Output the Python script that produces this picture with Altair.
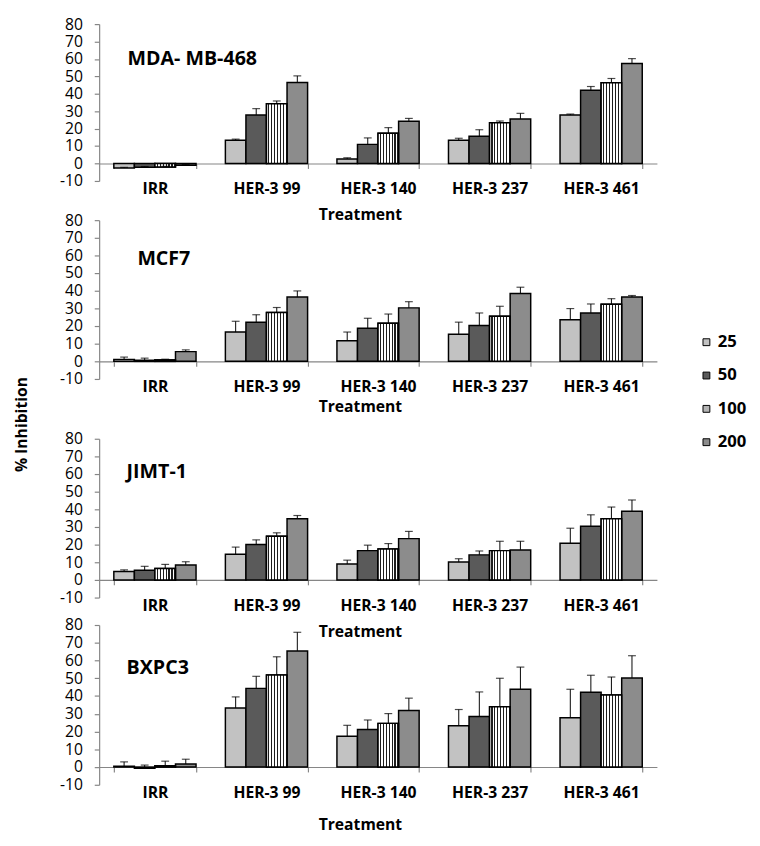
import altair as alt
import pandas as pd

# ---------------- data ----------------
treatments = ["IRR", "HER-3 99", "HER-3 140", "HER-3 237", "HER-3 461"]
doses = ["25", "50", "100", "200"]
cell_lines = ["MDA- MB-468", "MCF7", "JIMT-1", "BXPC3"]

# rows = dose (25, 50, 100, 200); columns = treatments
mda_mean = [[-2.6, 13.4, 2.6, 13.4, 27.8],
            [-2.1, 27.9, 11.0, 15.7, 42.1],
            [-2.0, 34.3, 17.4, 23.4, 46.3],
            [-1.0, 46.5, 24.3, 25.6, 57.4]]
mda_err = [[0.4, 0.6, 0.7, 1.1, 0.6],
           [0.4, 3.6, 3.7, 3.7, 2.1],
           [0.4, 1.6, 3.2, 1.0, 2.5],
           [0.4, 3.8, 1.6, 3.2, 2.8]]

mcf7_mean = [[1.1, 16.6, 11.6, 15.3, 23.5],
             [0.6, 22.2, 18.7, 20.3, 27.4],
             [0.8, 27.7, 21.6, 25.5, 32.3],
             [5.5, 36.4, 30.3, 38.4, 36.4]]
mcf7_err = [[1.3, 6.1, 5.0, 6.9, 6.4],
            [1.2, 4.2, 5.7, 7.1, 5.1],
            [0.4, 2.8, 5.2, 5.7, 3.2],
            [1.0, 3.5, 3.5, 3.6, 0.9]]

jimt_mean = [[4.8, 14.6, 9.0, 10.1, 20.8],
             [5.5, 20.1, 16.6, 14.2, 30.4],
             [6.5, 24.7, 17.5, 16.6, 34.7],
             [8.5, 34.7, 23.4, 17.0, 38.9]]
jimt_err = [[0.9, 4.0, 2.2, 1.9, 8.5],
            [2.2, 2.6, 3.1, 2.2, 6.5],
            [2.3, 2.0, 3.1, 5.3, 6.6],
            [1.8, 1.8, 4.1, 4.9, 6.4]]

bxpc_mean = [[0.5, 33.3, 17.3, 23.3, 27.8],
             [-0.7, 44.3, 21.1, 28.5, 42.1],
             [0.7, 51.8, 24.6, 34.0, 40.6],
             [1.7, 65.4, 31.8, 43.8, 50.2]]
bxpc_err = [[2.4, 6.2, 6.2, 9.1, 16.0],
            [1.8, 6.8, 5.4, 13.8, 9.6],
            [2.6, 10.3, 5.5, 16.0, 10.1],
            [2.7, 10.5, 7.0, 12.5, 12.5]]

y_ticks = [-10, 0, 10, 20, 30, 40, 50, 60, 70, 80]

# ---------------- style ----------------
FONT = "Open Sans"
AXIS_GRAY = "#868686"
FILLS = ["#c2c2c2", "#5a5a5a", "#b4b4b4", "#8c8c8c"]
PLOT_W = 569


def stripes(n=7, line="#1e1e1e"):
    stops = []
    for i in range(n):
        a, b, c = i / n, (i + 0.6) / n, (i + 1) / n
        stops += [alt.GradientStop(color="white", offset=a),
                  alt.GradientStop(color="white", offset=b),
                  alt.GradientStop(color=line, offset=b),
                  alt.GradientStop(color=line, offset=c)]
    return alt.LinearGradient(gradient="linear", stops=stops, x1=0, x2=1, y1=0, y2=0)


def panel(name, means, errs, height, lab_x, lab_y, title_gap):
    rows = []
    for d, mrow, erow in zip(doses, means, errs):
        for t, m, e in zip(treatments, mrow, erow):
            rows.append({"treatment": t, "dose": d, "value": m, "top": m + e})
    df = pd.DataFrame(rows)
    zero_off = height * 10 / 90

    x_enc = alt.X("treatment:N", sort=treatments,
                  scale=alt.Scale(domain=treatments, paddingInner=0.263, paddingOuter=0.1315),
                  axis=alt.Axis(title="Treatment", titleFont=FONT, titleFontSize=16,
                                titleFontWeight="bold", titleColor="black",
                                titleX=266, titleY=zero_off + title_gap, titleBaseline="middle",
                                labelFont=FONT, labelFontSize=16, labelFontWeight="bold",
                                labelColor="black", labelAngle=0, labelPadding=13,
                                domain=True, ticks=True, domainWidth=1.2, tickWidth=1.2,
                                tickBand="extent", tickSize=5, tickColor=AXIS_GRAY,
                                domainColor=AXIS_GRAY, offset=-zero_off))
    xo_enc = alt.XOffset("dose:N", sort=doses,
                         scale=alt.Scale(domain=doses, paddingInner=0, paddingOuter=0))
    y_scale = alt.Scale(domain=[-10, 80], nice=False, zero=True)
    y_axis = alt.Axis(title=None, values=y_ticks, labelExpr="datum.value",
                      labelOverlap=False, labelFont=FONT, labelFontSize=16,
                      labelColor="black", labelPadding=12, tickSize=5, tickWidth=1.2,
                      domainWidth=1.2, tickColor=AXIS_GRAY, domainColor=AXIS_GRAY,
                      grid=False)

    base = alt.Chart(df).encode(x=x_enc, xOffset=xo_enc)

    bars = base.mark_bar(stroke="black", strokeWidth=1.5).encode(
        y=alt.Y("value:Q", scale=y_scale, axis=y_axis),
        fill=alt.Fill("dose:N", sort=doses, scale=alt.Scale(domain=doses, range=FILLS),
                      legend=alt.Legend(title=None, orient="none", legendX=611, legendY=316,
                                        symbolType="square", symbolSize=49,
                                        symbolStrokeColor="black", symbolStrokeWidth=1,
                                        labelFont=FONT, labelFontSize=17,
                                        labelFontWeight="bold", labelColor="black",
                                        labelOffset=3, rowPadding=16, padding=0)),
    )
    striped = base.transform_filter(alt.datum.dose == "100").mark_bar(
        stroke="black", strokeWidth=1.5, fill=stripes()).encode(
        y=alt.Y("value:Q", scale=y_scale, axis=y_axis))
    err = base.mark_rule(color="black", strokeWidth=1).encode(
        y=alt.Y("value:Q", scale=y_scale, axis=y_axis), y2="top:Q")
    cap = base.mark_tick(color="black", thickness=1.2, size=8, orient="horizontal").encode(
        y=alt.Y("top:Q", scale=y_scale, axis=y_axis))
    label = alt.Chart(pd.DataFrame({"name": [name]})).mark_text(
        font=FONT, fontSize=20, fontWeight="bold", color="black",
        align="left", baseline="middle").encode(
        text="name:N", x=alt.value(lab_x), y=alt.value(lab_y))

    return alt.layer(bars, striped, err, cap, label).properties(
        width=PLOT_W, height=height)


def spacer(h):
    return alt.Chart(pd.DataFrame({"s": [0]})).mark_point(opacity=0).encode(
        x=alt.value(0), y=alt.value(0)).properties(width=PLOT_W, height=h)


p1 = panel(cell_lines[0], mda_mean, mda_err, 160, 29, 36, 34)
p2 = panel(cell_lines[1], mcf7_mean, mcf7_err, 162, 39, 40, 28)
p3 = panel(cell_lines[2], jimt_mean, jimt_err, 162, 28, 34, 35)
p4 = panel(cell_lines[3], bxpc_mean, bxpc_err, 163, 28, 44, 41)

chart = alt.vconcat(p1, spacer(40), p2, spacer(61), p3, spacer(28), p4,
                    spacing=0, bounds="flush").properties(
    title=alt.TitleParams(text="% Inhibition", orient="left", anchor="middle",
                          font=FONT, fontSize=16, fontWeight="bold", color="black",
                          offset=30),
    padding={"left": 6, "top": 0, "right": 5, "bottom": 5},
).configure_view(stroke=None).configure_axis(labelOverlap=False).configure_axisY(
    labelOverlap=False)

chart.save("out.html", embed_options={"renderer": "svg", "actions": False})
